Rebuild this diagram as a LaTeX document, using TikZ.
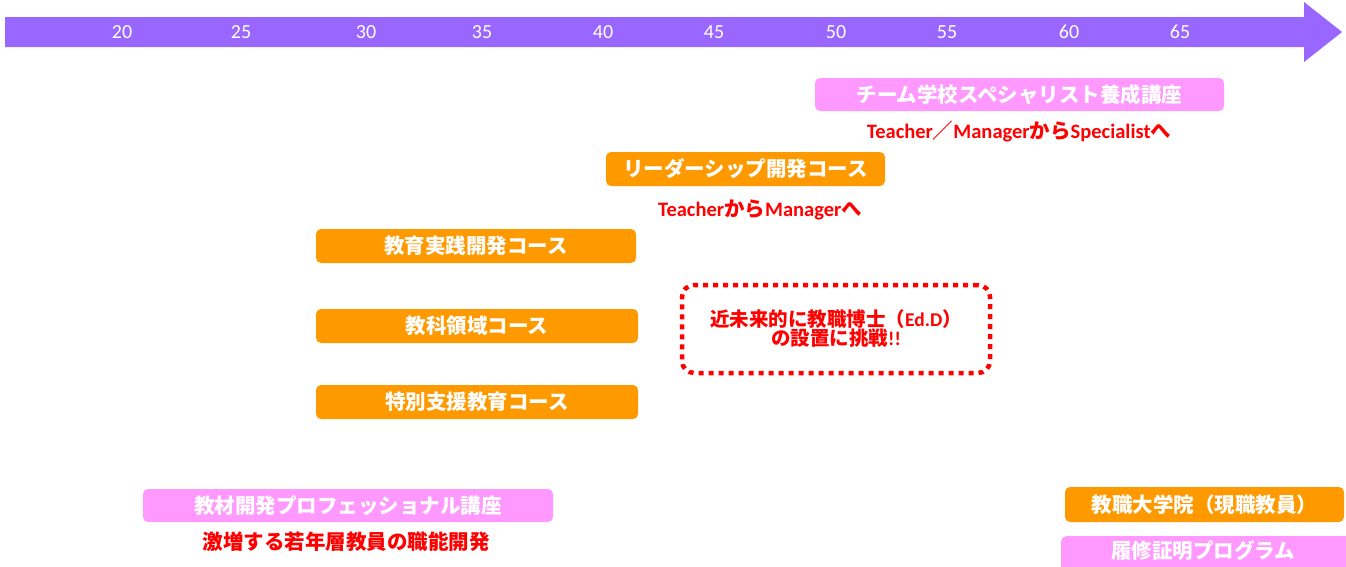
\documentclass[tikz,border=0pt]{standalone}
\usepackage{fontspec}
\setmainfont{Carlito}
\newfontfamily\jp{Noto Sans CJK JP}
\usetikzlibrary{positioning}
\definecolor{axispurple}{HTML}{9966FF}
\definecolor{boxorange}{HTML}{FF9900}
\definecolor{boxpink}{HTML}{FF99FF}
\definecolor{txtred}{HTML}{FF0000}
\tikzset{
  boxbase/.style={rounded corners=5pt, inner sep=0pt, text=white, font=\jp\bfseries\fontsize{20.5}{22}\selectfont},
  orangebox/.style={boxbase, fill=boxorange},
  pinkbox/.style={boxbase, fill=boxpink},
  redlabel/.style={text=txtred, inner sep=0pt, font=\bfseries\fontsize{20.5}{22}\selectfont},
  agelabel/.style={text=white, inner sep=0pt, font=\fontsize{20}{22}\selectfont},
  dottedbox/.style={draw=txtred, line width=4.5pt, dash pattern=on 5pt off 5pt, rounded corners=12pt,
     text=txtred, align=center, inner sep=0pt, font=\bfseries\fontsize{19.5}{19}\selectfont}
}
\begin{document}
\begin{tikzpicture}[x=1pt,y=-1pt]
\useasboundingbox (0,0) rectangle (1346,566);
% axis arrow
\fill[axispurple] (5,17) -- (1304,17) -- (1304,2) -- (1342,32) -- (1304,62) -- (1304,47) -- (5,47) -- cycle;
\foreach \a/\x in {20/122,25/241,30/366,35/482,40/603,45/714,50/836,55/947,60/1069,65/1180}
  \node[agelabel] (age\a) at (\x,32) {\a};
% boxes
\node[pinkbox, minimum width=409pt, minimum height=33pt] (team) at (1019.5,94.5) {チーム学校スペシャリスト養成講座};
\node[redlabel] (teamlbl) at (1019,131) {Teacher{\jp ／}Manager{\jp から}Specialist{\jp へ}};
\node[orangebox, minimum width=279pt, minimum height=34pt] (leader) at (745.5,169) {リーダーシップ開発コース};
\node[redlabel] (leaderlbl) at (760,210) {Teacher{\jp から}Manager{\jp へ}};
\node[orangebox, minimum width=320pt, minimum height=34pt] (jissen) at (476,246) {教育実践開発コース};
\node[orangebox, minimum width=322pt, minimum height=34pt] (kyoka) at (477,326) {教科領域コース};
\node[orangebox, minimum width=322pt, minimum height=34pt] (tokubetsu) at (477,402) {特別支援教育コース};
\node[dottedbox, minimum width=308pt, minimum height=88pt] (edd) at (836,329)
  {{\jp 近未来的に教職博士（}Ed.D{\jp ）}\\{\jp の設置に挑戦}!!};
\node[pinkbox, minimum width=410pt, minimum height=33pt] (kyozai) at (348,505.5) {教材開発プロフェッショナル講座};
\node[redlabel, font=\jp\bfseries\fontsize{20.5}{22}\selectfont] (kyozailbl) at (346,542) {激増する若年層教員の職能開発};
\node[orangebox, minimum width=279pt, minimum height=35pt] (daigakuin) at (1204.5,504.5) {教職大学院（現職教員）};
\node[pinkbox, minimum width=290pt, minimum height=40pt, anchor=north west] (rishu) at (1061,536) {};
\node[boxbase] (rishutxt) at (1203,551) {履修証明プログラム};
\end{tikzpicture}
\end{document}
